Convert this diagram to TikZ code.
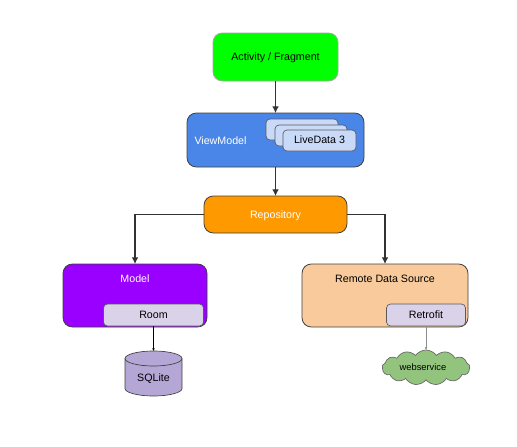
\documentclass[tikz,border=0pt]{standalone}
\usepackage{fontspec}
\setmainfont{Liberation Sans}
\usetikzlibrary{arrows.meta,shapes.geometric,shapes.symbols}
\definecolor{activitygreen}{HTML}{00FF00}
\definecolor{viewblue}{HTML}{4A86E8}
\definecolor{cardblue}{HTML}{C9DAF8}
\definecolor{repoorange}{HTML}{FF9900}
\definecolor{modelpurple}{HTML}{9900FF}
\definecolor{remotepeach}{HTML}{F9CB9C}
\definecolor{innerlilac}{HTML}{D9D2E9}
\definecolor{sqlitelilac}{HTML}{B4A7D6}
\definecolor{cloudgreen}{HTML}{93C47D}
\tikzset{
    boxsize/.style 2 args={minimum width=#1*0.75pt,minimum height=#2*0.75pt},
    every node/.style={font=\fontsize{8}{10}\selectfont,inner sep=0pt,outer sep=0pt},
    boxtext/.style={text height=6.5pt,text depth=1.3pt},
    bigbox/.style={boxtext,draw=black!75,line width=0.6pt,rounded corners=7pt},
    smallbox/.style={boxtext,draw=black!65,line width=0.5pt,rounded corners=3pt},
    thickarrow/.style={draw=black!80,line width=0.8pt,-{Latex[length=5pt,width=5pt]}},
    thinarrow/.style={line width=0.4pt,-{Latex[length=2pt,width=2pt]}}
}
\begin{document}
\begin{tikzpicture}[x=0.75pt,y=-0.75pt]
    \useasboundingbox (0,0) rectangle (517,446);
    \node[bigbox,draw=black!35,fill=activitygreen,boxsize={125}{48}] (activity) at (275.5,57) {Activity / Fragment};
    \node[bigbox,fill=viewblue,boxsize={177}{54}] (viewmodel) at (275.5,140) {};
    \node[boxtext,white] (viewlabel) at (220.5,141) {ViewModel};
    \node[smallbox,fill=cardblue,boxsize={72}{21}] (livea) at (302,129.5) {};
    \node[smallbox,fill=cardblue,boxsize={72}{21}] (liveb) at (311,135.5) {};
    \node[smallbox,fill=cardblue,boxsize={73}{21}] (livec) at (319.5,140.5) {LiveData 3};
    \node[bigbox,fill=repoorange,boxsize={143}{37}] (repository) at (275.5,214.5) {};
    \node[boxtext,white] (repolabel) at (275.5,215) {Repository};
    \node[bigbox,fill=modelpurple,boxsize={144}{63}] (model) at (135,295.5) {};
    \node[boxtext,white] (modellabel) at (135,279) {Model};
    \node[smallbox,fill=innerlilac,boxsize={100}{22}] (room) at (153.5,315) {Room};
    \node[bigbox,fill=remotepeach,boxsize={166}{63}] (remote) at (385,295.5) {};
    \node[boxtext] (remotelabel) at (385,279) {Remote Data Source};
    \node[smallbox,fill=innerlilac,boxsize={79}{22}] (retrofit) at (426,315) {Retrofit};
    % database drum
    \coordinate (sqlitetop) at (153.5,351);
    \draw[draw=black!75,line width=0.5pt,fill=sqlitelilac]
        (125,358.5)
        .. controls (125,354.4) and (137.8,351) .. (sqlitetop)
        .. controls (169.2,351) and (182,354.4) .. (182,358.5)
        -- (182,388.5)
        .. controls (182,392.6) and (169.2,396) .. (153.5,396)
        .. controls (137.8,396) and (125,392.6) .. (125,388.5)
        -- cycle;
    \draw[draw=black!75,line width=0.5pt]
        (125,358.5) .. controls (125,362.6) and (137.8,366) .. (153.5,366)
        .. controls (169.2,366) and (182,362.6) .. (182,358.5);
    \node[boxtext] (sqlitelabel) at (153.5,378) {SQLite};
    \node[
        cloud,
        cloud puffs=13,
        cloud puff arc=110,
        aspect=2.5,
        draw=black!60,
        line width=0.5pt,
        fill=cloudgreen,
        boxsize={88}{35}
    ] (webservice) at (426,367.5) {};
    \node[font=\fontsize{7}{9}\selectfont] (weblabel) at (423,367.5) {webservice};
    % connectors
    \draw[thickarrow] (activity) -- (viewmodel);
    \draw[thickarrow] (viewmodel) -- (repository);
    \draw[thickarrow] (repository.west) -| (model.north);
    \draw[thickarrow] (repository.east) -| (remote.north);
    \draw[thinarrow] (room.south) -- (sqlitetop);
    \draw[thinarrow,draw=black!45] (retrofit.south) -- (webservice.north);
\end{tikzpicture}
\end{document}
